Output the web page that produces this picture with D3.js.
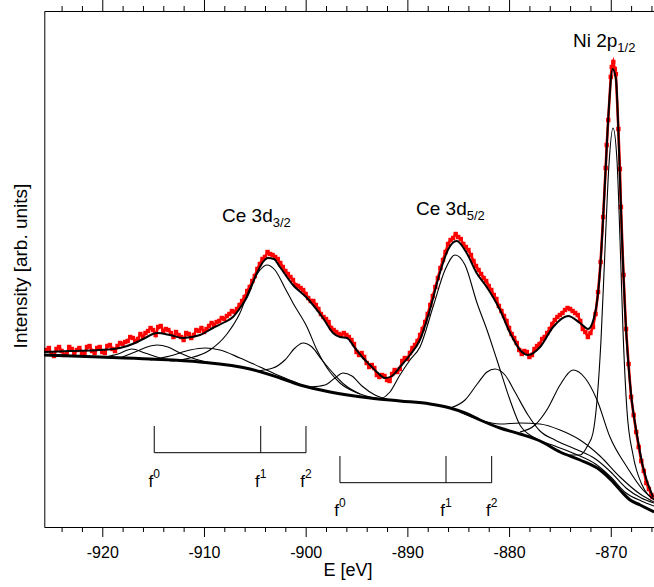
<!DOCTYPE html>
<html>
<head>
<meta charset="utf-8">
<script src="https://cdn.jsdelivr.net/npm/d3@7/dist/d3.min.js"></script>
<style>
  body { margin: 0; background: #fff; }
  text { font-family: "Liberation Sans", Arial, sans-serif; fill: #000; }
</style>
</head>
<body>
<div id="chart"></div>
<script>
// binding energy [eV] vs intensity [arb. units]
const measured = [
  [-925.5,177],[-925.25,179],[-925,173],[-924.75,171],[-924.5,178],[-924.25,180],[-924,176],[-923.75,172],
  [-923.5,173],[-923.25,180],[-923,178],[-922.75,173],[-922.5,177],[-922.25,179],[-922,174],[-921.75,172],
  [-921.5,180],[-921.25,181],[-921,176],[-920.75,174],[-920.5,179],[-920.25,180],[-920,175],[-919.75,174],
  [-919.5,181],[-919.25,182],[-919,178],[-918.75,176],[-918.5,181],[-918.25,184],[-918,183],[-917.75,185],
  [-917.5,186],[-917.25,190],[-917,189],[-916.75,186],[-916.5,188],[-916.25,193],[-916,190],[-915.75,194],
  [-915.5,196],[-915.25,199],[-915,197],[-914.75,192],[-914.5,200],[-914.25,201],[-914,196],[-913.75,198],
  [-913.5,197],[-913.25,194],[-913,190],[-912.75,195],[-912.5,192],[-912.25,190],[-912,187],[-911.75,194],
  [-911.5,193],[-911.25,189],[-911,192],[-910.75,197],[-910.5,196],[-910.25,199],[-910,195],[-909.75,198],
  [-909.5,201],[-909.25,204],[-909,202],[-908.75,205],[-908.5,206],[-908.25,209],[-908,208],[-907.75,211],
  [-907.5,213],[-907.25,216],[-907,215],[-906.75,218],[-906.5,222],[-906.25,226],[-906,230],[-905.75,236],
  [-905.5,240],[-905.25,246],[-905,251],[-904.75,258],[-904.5,263],[-904.25,268],[-904,270],[-903.75,275],
  [-903.5,273],[-903.25,272],[-903,270],[-902.75,268],[-902.5,264],[-902.25,260],[-902,256],[-901.75,253],
  [-901.5,250],[-901.25,247],[-901,242],[-900.75,241],[-900.5,239],[-900.25,237],[-900,233],[-899.75,229],
  [-899.5,226],[-899.25,226],[-899,222],[-898.75,218],[-898.5,213],[-898.25,210],[-898,208],[-897.75,205],
  [-897.5,199],[-897.25,197],[-897,195],[-896.75,193],[-896.5,192],[-896.25,194],[-896,192],[-895.75,190],
  [-895.5,187],[-895.25,183],[-895,175],[-894.75,172],[-894.5,174],[-894.25,170],[-894,164],[-893.75,160],
  [-893.5,162],[-893.25,159],[-893,152],[-892.75,150],[-892.5,152],[-892.25,151],[-892,147],[-891.75,146],
  [-891.5,153],[-891.25,157],[-891,155],[-890.75,158],[-890.5,166],[-890.25,169],[-890,168],[-889.75,174],
  [-889.5,179],[-889.25,182],[-889,186],[-888.75,192],[-888.5,198],[-888.25,205],[-888,213],[-887.75,222],
  [-887.5,231],[-887.25,240],[-887,249],[-886.75,259],[-886.5,267],[-886.25,275],[-886,283],[-885.75,287],
  [-885.5,289],[-885.25,293],[-885,290],[-884.75,288],[-884.5,283],[-884.25,280],[-884,277],[-883.75,272],
  [-883.5,266],[-883.25,261],[-883,257],[-882.75,253],[-882.5,249],[-882.25,246],[-882,241],[-881.75,237],
  [-881.5,232],[-881.25,228],[-881,221],[-880.75,216],[-880.5,211],[-880.25,206],[-880,199],[-879.75,193],
  [-879.5,189],[-879.25,184],[-879,177],[-878.75,173],[-878.5,176],[-878.25,175],[-878,170],[-877.75,172],
  [-877.5,178],[-877.25,181],[-877,183],[-876.75,188],[-876.5,190],[-876.25,194],[-876,198],[-875.75,203],
  [-875.5,207],[-875.25,210],[-875,212],[-874.75,214],[-874.5,217],[-874.25,219],[-874,218],[-873.75,216],
  [-873.5,214],[-873.25,212],[-873,206],[-872.75,198],[-872.5,195],[-872.25,190],[-872,194],[-871.75,200],
  [-871.5,213],[-871.25,235],[-871,265],[-870.75,310],[-870.5,359],[-870.4,382],[-870.25,407],[-870,450],
  [-869.9,460],[-869.75,465],[-869.6,458],[-869.5,453],[-869.25,398],[-869.1,358],[-869,320],[-868.75,252],
  [-868.5,198],[-868.25,163],[-868,130],[-867.75,112],[-867.5,95],[-867.25,80],[-867,66],[-866.75,56],
  [-866.5,44],[-866.25,38],[-866,32],[-865.9,30]
];

const envelope = [
  [-925.73,175],[-923.18,176],[-920.23,177],[-918.26,179],[-916.78,184],[-915.8,189],[-914.62,194],
  [-913.34,192],[-912.06,189],[-910.39,192],[-909.12,199],[-907.94,205],[-907.15,210],[-906.46,219],
  [-905.77,230],[-904.79,254],[-904.2,265],[-903.71,269],[-903.12,268],[-902.53,260],[-901.25,242],
  [-899.87,229],[-898.3,209],[-897.31,194],[-896.63,190],[-895.94,189],[-895.15,179],[-894.36,169],
  [-893.68,162],[-892.89,154],[-892.2,149],[-891.51,151],[-890.73,160],[-889.75,172],[-888.77,187],
  [-887.79,217],[-886.81,254],[-886.02,277],[-885.15,286],[-884.17,274],[-883.19,254],[-882.2,240],
  [-881.58,230],[-880.89,217],[-879.9,194],[-878.92,177],[-878.13,172],[-876.95,180],[-875.67,200],
  [-874.2,211],[-873.02,204],[-872.23,198],[-871.54,214],[-871.05,257],[-870.76,307],[-870.46,367],
  [-870.17,422],[-869.81,458],[-869.48,447],[-869.19,377],[-868.89,287],[-868.6,217],[-868.3,167],
  [-867.94,127],[-867.45,94],[-866.83,60],[-865.85,30]
];

const background = [
  [-925.73,172],[-920.23,170],[-915.31,168],[-910.39,165],[-905.47,158],[-902.52,149],[-900.55,142],
  [-897.6,135],[-893.67,129],[-890.72,126],[-887.77,123],[-885.8,119],[-884.33,114],[-882.85,107],
  [-880.89,99],[-878.92,93],[-876.95,86],[-874.98,75],[-873.01,67],[-871.05,57],[-869.87,46],
  [-869.08,37],[-868.1,27],[-867.11,22],[-865.74,15]
];

// fitted components
const satA = [[-919.73,170],[-918.46,173],[-917.08,178],[-915.8,174],[-914.33,169],[-912.85,166]];
const ce32f0 = [[-918.26,169],[-916.78,175],[-915.6,180],[-914.62,182],[-913.54,180],[-912.36,174],
  [-910.88,168],[-909.41,164]];
const satB = [[-915.31,167],[-913.34,171],[-911.38,177],[-909.9,179],[-908.43,177],[-906.46,169],
  [-904.49,160],[-902.53,151],[-900.56,143]];
const ce32f1 = [[-913.34,166],[-911.38,169],[-909.41,177],[-907.74,193],[-906.46,214],[-905.48,239],
  [-904.49,257],[-903.81,262],[-903.02,257],[-902.04,239],[-901.25,224],[-899.87,200],[-898.89,177],
  [-897.61,155],[-896.63,144],[-895.15,135],[-893.68,130],[-891.71,127]];
const ce32f2 = [[-904.99,156],[-903.22,159],[-902.04,167],[-901.05,179],[-900.27,184],[-899.38,180],
  [-898.4,167],[-897.31,154],[-896.14,142],[-894.66,133]];
const ce52f0 = [[-899.58,140],[-898.1,142],[-897.12,149],[-896.33,154],[-895.45,151],[-894.46,141],
  [-893.19,132],[-891.71,127]];
const ce52f1 = [[-892.69,127],[-891.71,135],[-890.73,152],[-889.74,167],[-888.76,180],[-887.48,220],
  [-886.3,257],[-885.32,272],[-884.33,262],[-883.15,224],[-882.17,197],[-881.19,167],[-879.91,127],
  [-878.93,102],[-877.45,89],[-875.49,81],[-873.5,73],[-871.5,63],[-870,50],[-868.5,34],[-867,26],
  [-865.75,21]];
const ce52f2 = [[-885.81,119],[-884.33,127],[-883.06,144],[-882.17,155],[-881.39,158],[-880.4,152],
  [-879.42,135],[-878.14,112],[-876.96,96],[-875.49,87],[-873.5,78],[-871.5,68],[-870,55],
  [-868.5,39],[-867,29],[-865.75,24]];
const satC = [[-884.83,115],[-882.86,107],[-880.89,103],[-878.93,104],[-876.96,103],[-874.99,97],
  [-873.02,87],[-871.06,71],[-869.09,50],[-867.12,33],[-865.75,25]];
const satD = [[-878.93,95],[-877.45,102],[-876.17,119],[-874.99,142],[-873.71,157],[-872.53,149],
  [-871.35,127],[-870.08,90],[-868.41,60],[-866.83,37],[-865.75,27]];
const ni2p = [[-874.01,72],[-873.02,72],[-872.24,82],[-871.75,94],[-871.35,127],[-870.96,187],
  [-870.57,277],[-870.18,362],[-869.78,399],[-869.39,367],[-869.09,287],[-868.8,197],[-868.41,117],
  [-867.81,72],[-866.92,42],[-865.75,28]];

const components = [satA, ce32f0, satB, ce32f1, ce32f2, ce52f0, ce52f1, ce52f2, satC, satD, ni2p];

// multiplet markers
const ce32Lines = [-914.89, -904.42, -899.97];
const ce52Lines = [-896.63, -886.2, -881.71];
const multipletNames = ["0", "1", "2"];

const majorTicks = [-920, -910, -900, -890, -880, -870];
const minorTicks = [-924, -922, -918, -916, -914, -912, -908, -906, -904, -902, -898, -896, -894, -892,
  -888, -886, -884, -882, -878, -876, -874, -872, -868, -866];

const W = 654, H = 587;
const svg = d3.select("#chart").append("svg").attr("width", W).attr("height", H);

const x = d3.scaleLinear().domain([-925.7, -865.7]).range([44.3, 654.5]);
const y = d3.scaleLinear().domain([0, 516]).range([527, 11]);

svg.append("clipPath").attr("id", "plot")
  .append("rect").attr("x", 44).attr("y", 11).attr("width", W - 44).attr("height", 516);

const line = d3.line().x(d => x(d[0])).y(d => y(d[1])).curve(d3.curveMonotoneX);

const plot = svg.append("g").attr("clip-path", "url(#plot)");

// measured points
plot.append("path").datum(measured)
  .attr("d", d3.line().x(d => x(d[0])).y(d => y(d[1])))
  .attr("fill", "none").attr("stroke", "#ff0000").attr("stroke-width", 2.6);
plot.selectAll("rect.pt").data(measured).enter().append("rect")
  .attr("class", "pt")
  .attr("x", d => x(d[0]) - 2.2).attr("y", d => y(d[1]) - 2.2)
  .attr("width", 4.4).attr("height", 4.4).attr("fill", "#ff0000");

// components
plot.selectAll("path.comp").data(components).enter().append("path")
  .attr("class", "comp").attr("d", line)
  .attr("fill", "none").attr("stroke", "#000").attr("stroke-width", 1.1);

plot.append("path").datum(background).attr("d", line)
  .attr("fill", "none").attr("stroke", "#000").attr("stroke-width", 3);

plot.append("path").datum(envelope).attr("d", line)
  .attr("fill", "none").attr("stroke", "#000").attr("stroke-width", 2);

// axes
svg.append("g").attr("transform", "translate(0,527)")
  .call(d3.axisBottom(x).tickValues(minorTicks).tickSize(5).tickSizeOuter(0).tickFormat(""));
const xb = svg.append("g").attr("transform", "translate(0,527)")
  .call(d3.axisBottom(x).tickValues(majorTicks).tickSize(10).tickSizeOuter(0).tickPadding(10)
    .tickFormat(d => String(d)));
xb.selectAll("text").style("font-size", "16px").style("font-family", "Liberation Sans, Arial, sans-serif");

svg.append("g").attr("transform", "translate(0,11)")
  .call(d3.axisTop(x).tickValues(minorTicks).tickSize(5).tickSizeOuter(0).tickFormat(""));
svg.append("g").attr("transform", "translate(0,11)")
  .call(d3.axisTop(x).tickValues(majorTicks).tickSize(11).tickSizeOuter(0).tickFormat(""));

svg.append("g").attr("transform", "translate(44.3,0)")
  .call(d3.axisLeft(y).tickValues([]).tickSizeOuter(0));

svg.selectAll(".domain, .tick line").attr("stroke", "#000");

// axis titles
svg.append("text").attr("x", 348).attr("y", 576).attr("text-anchor", "middle")
  .style("font-size", "18px").text("E [eV]");
svg.append("text").attr("transform", "translate(27,266) rotate(-90)").attr("text-anchor", "middle")
  .style("font-size", "19px").text("Intensity [arb. units]");

// peak labels
function peakLabel(px, py, main, sub) {
  const t = svg.append("text").attr("x", px).attr("y", py).style("font-size", "19px");
  t.append("tspan").text(main);
  t.append("tspan").attr("dy", 5).style("font-size", "13px").text(sub);
}
peakLabel(222, 222, "Ce 3d", "3/2");
peakLabel(416, 215, "Ce 3d", "5/2");
peakLabel(573, 47, "Ni 2p", "1/2");

// multiplet brackets
function bracket(lines, yLine, yTop, yText) {
  const g = svg.append("g");
  g.append("line").attr("x1", x(lines[0])).attr("x2", x(lines[lines.length - 1]))
    .attr("y1", yLine).attr("y2", yLine).attr("stroke", "#000");
  g.selectAll("line.v").data(lines).enter().append("line").attr("class", "v")
    .attr("x1", d => x(d)).attr("x2", d => x(d)).attr("y1", yTop).attr("y2", yLine)
    .attr("stroke", "#000");
  const t = g.selectAll("text").data(lines).enter().append("text")
    .attr("x", d => x(d)).attr("y", yText).attr("text-anchor", "middle").style("font-size", "17px");
  t.append("tspan").text("f");
  t.append("tspan").attr("dy", -9).style("font-size", "12px").text((d, i) => multipletNames[i]);
}
bracket(ce32Lines, 452.7, 426, 487);
bracket(ce52Lines, 482.7, 456, 516);
</script>
</body>
</html>
